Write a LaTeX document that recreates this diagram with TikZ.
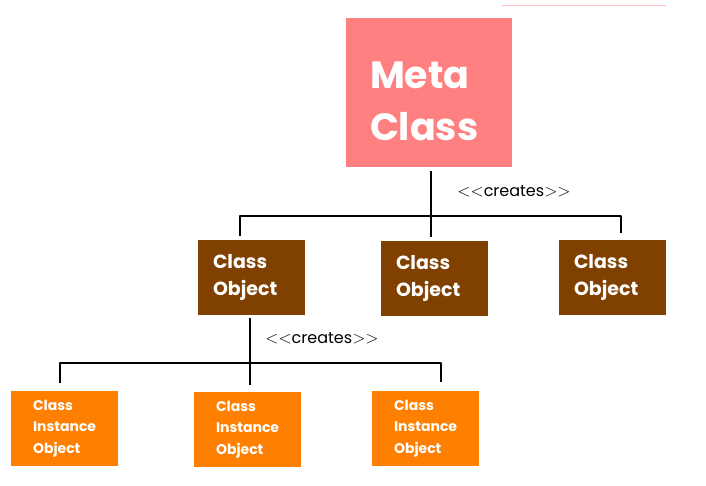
\documentclass[tikz,border=0pt]{standalone}
\usepackage{fontspec}
\setmainfont{Poppins}
\definecolor{metapink}{HTML}{FF8080}
\definecolor{objbrown}{HTML}{804000}
\definecolor{instorange}{HTML}{FF8000}
\definecolor{linepink}{HTML}{FFC4C4}
\begin{document}
\begin{tikzpicture}[x=1pt,y=-1pt, line join=round,
    wire/.style={draw=black, line width=1.3pt},
    box/.style={rectangle, anchor=north west, outer sep=0pt, inner ysep=0pt, align=left, text=white},
    metabox/.style={box, fill=metapink, minimum width=166pt, minimum height=149pt, inner xsep=24pt, text width=118pt, font=\bfseries\fontsize{38}{52}\selectfont},
    objbox/.style={box, fill=objbrown, minimum width=107pt, minimum height=75pt, inner xsep=15pt, text width=77pt, font=\bfseries\fontsize{19}{27}\selectfont},
    instbox/.style={box, fill=instorange, minimum width=107pt, minimum height=75pt, inner xsep=22pt, text width=63pt, font=\bfseries\fontsize{14}{21.5}\selectfont},
    note/.style={font=\fontsize{16}{18}\selectfont}]
    \useasboundingbox (0,0) rectangle (706,486);
    \draw[linepink, line width=1pt] (502,6) -- (666,6);
    \node[metabox] (meta) at (346,18) {\rule{0pt}{45pt}Meta\\Class};
    \node[objbox] (obj1) at (198,240) {Class\\Object};
    \node[objbox] (obj2) at (381,241) {Class\\Object};
    \node[objbox] (obj3) at (559,240) {Class\\Object};
    \node[instbox] (inst1) at (11,391) {Class\\Instance\\Object};
    \node[instbox] (inst2) at (194,392) {Class\\Instance\\Object};
    \node[instbox] (inst3) at (372,391) {Class\\Instance\\Object};
    \node[note] (cr1) at (514,191) {$<<$creates$>>$};
    \node[note] (cr2) at (322,338) {$<<$creates$>>$};
    \coordinate (j1) at (431,216);
    \coordinate (t1) at (240,236);
    \coordinate (t3) at (621,233);
    \draw[wire] ([yshift=-4pt]j1 |- meta.south) -- ([yshift=4pt]j1 |- obj2.north);
    \draw[wire] (t1) |- (j1) -| (t3);
    \coordinate (j2) at (250,363);
    \coordinate (t4) at (60,383);
    \coordinate (t5) at (250,385);
    \coordinate (t6) at (441,382);
    \draw[wire] ([yshift=-3pt]t5 |- obj1.south) -- (t5);
    \draw[wire] (t4) |- (j2) -| (t6);
\end{tikzpicture}
\end{document}
